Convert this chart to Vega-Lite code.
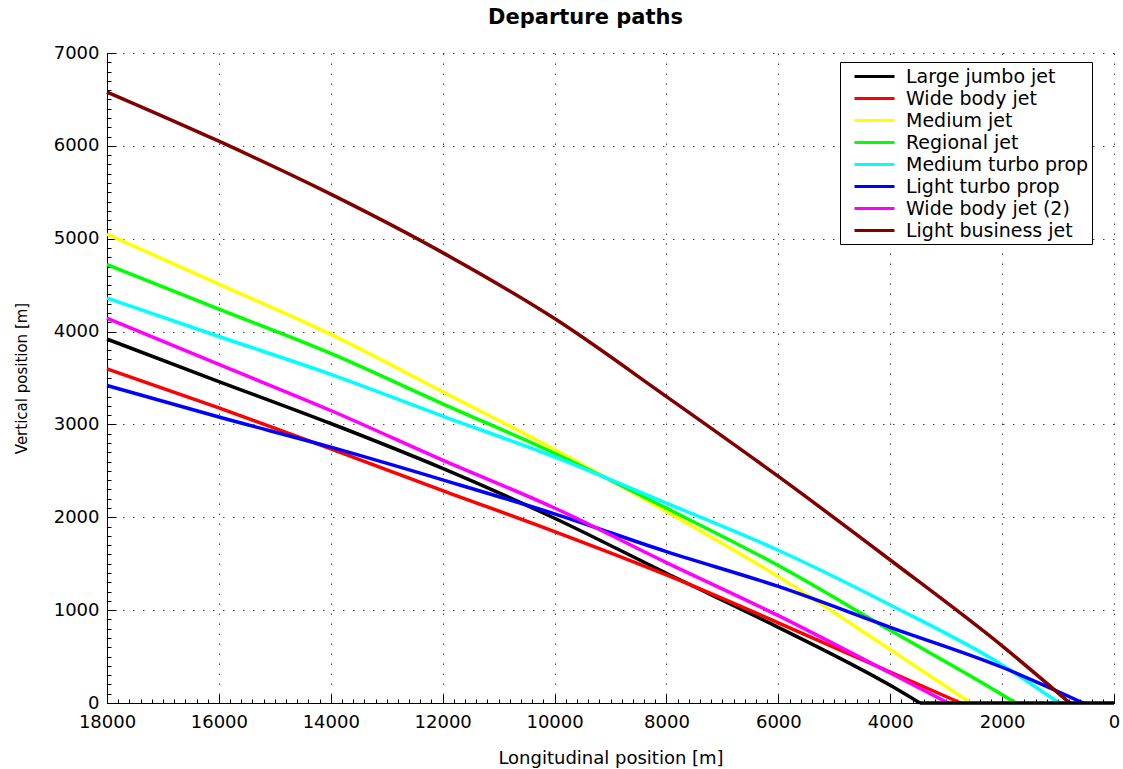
{
  "$schema": "https://vega.github.io/schema/vega-lite/v6.json",
  "width": 1007,
  "height": 650,
  "autosize": {"type": "none"},
  "padding": {"left": 107, "top": 53, "right": 9, "bottom": 66},
  "background": "white",
  "config": {"view": {"stroke": null}, "font": "DejaVu Sans"},
  "title": {"text": "Departure paths", "fontSize": 21, "fontWeight": "bold", "font": "DejaVu Sans", "color": "black", "offset": 16, "frame": "group", "dx": -25},
  "data": {"values": [
    {"series": "Large jumbo jet", "x": 18000, "y": 3919},
    {"series": "Large jumbo jet", "x": 16000, "y": 3462},
    {"series": "Large jumbo jet", "x": 14000, "y": 3010},
    {"series": "Large jumbo jet", "x": 12000, "y": 2526},
    {"series": "Large jumbo jet", "x": 10000, "y": 1990},
    {"series": "Large jumbo jet", "x": 8000, "y": 1397},
    {"series": "Large jumbo jet", "x": 6000, "y": 815},
    {"series": "Large jumbo jet", "x": 4000, "y": 190},
    {"series": "Large jumbo jet", "x": 3470, "y": 0},
    {"series": "Large jumbo jet", "x": 0, "y": 0},
    {"series": "Wide body jet", "x": 18000, "y": 3599},
    {"series": "Wide body jet", "x": 16000, "y": 3179},
    {"series": "Wide body jet", "x": 14000, "y": 2737},
    {"series": "Wide body jet", "x": 12000, "y": 2288},
    {"series": "Wide body jet", "x": 10000, "y": 1846},
    {"series": "Wide body jet", "x": 8000, "y": 1379},
    {"series": "Wide body jet", "x": 6000, "y": 864},
    {"series": "Wide body jet", "x": 4000, "y": 334},
    {"series": "Wide body jet", "x": 2741, "y": 0},
    {"series": "Wide body jet", "x": 0, "y": 0},
    {"series": "Medium jet", "x": 18000, "y": 5050},
    {"series": "Medium jet", "x": 16000, "y": 4511},
    {"series": "Medium jet", "x": 14000, "y": 3969},
    {"series": "Medium jet", "x": 12000, "y": 3352},
    {"series": "Medium jet", "x": 10000, "y": 2730},
    {"series": "Medium jet", "x": 8000, "y": 2062},
    {"series": "Medium jet", "x": 6000, "y": 1361},
    {"series": "Medium jet", "x": 4000, "y": 575},
    {"series": "Medium jet", "x": 2555, "y": 0},
    {"series": "Medium jet", "x": 0, "y": 0},
    {"series": "Regional jet", "x": 18000, "y": 4720},
    {"series": "Regional jet", "x": 16000, "y": 4242},
    {"series": "Regional jet", "x": 14000, "y": 3765},
    {"series": "Regional jet", "x": 12000, "y": 3222},
    {"series": "Regional jet", "x": 10000, "y": 2690},
    {"series": "Regional jet", "x": 8000, "y": 2098},
    {"series": "Regional jet", "x": 6000, "y": 1480},
    {"series": "Regional jet", "x": 4000, "y": 783},
    {"series": "Regional jet", "x": 2000, "y": 90},
    {"series": "Regional jet", "x": 1757, "y": 0},
    {"series": "Regional jet", "x": 0, "y": 0},
    {"series": "Medium turbo prop", "x": 18000, "y": 4361},
    {"series": "Medium turbo prop", "x": 16000, "y": 3947},
    {"series": "Medium turbo prop", "x": 14000, "y": 3540},
    {"series": "Medium turbo prop", "x": 12000, "y": 3090},
    {"series": "Medium turbo prop", "x": 10000, "y": 2650},
    {"series": "Medium turbo prop", "x": 8000, "y": 2152},
    {"series": "Medium turbo prop", "x": 6000, "y": 1645},
    {"series": "Medium turbo prop", "x": 4000, "y": 1056},
    {"series": "Medium turbo prop", "x": 2000, "y": 410},
    {"series": "Medium turbo prop", "x": 983, "y": 0},
    {"series": "Medium turbo prop", "x": 0, "y": 0},
    {"series": "Light turbo prop", "x": 18000, "y": 3419},
    {"series": "Light turbo prop", "x": 16000, "y": 3080},
    {"series": "Light turbo prop", "x": 14000, "y": 2755},
    {"series": "Light turbo prop", "x": 12000, "y": 2403},
    {"series": "Light turbo prop", "x": 10000, "y": 2037},
    {"series": "Light turbo prop", "x": 8000, "y": 1630},
    {"series": "Light turbo prop", "x": 6000, "y": 1255},
    {"series": "Light turbo prop", "x": 4000, "y": 815},
    {"series": "Light turbo prop", "x": 2000, "y": 385},
    {"series": "Light turbo prop", "x": 549, "y": 0},
    {"series": "Light turbo prop", "x": 0, "y": 0},
    {"series": "Wide body jet (2)", "x": 18000, "y": 4145},
    {"series": "Wide body jet (2)", "x": 16000, "y": 3646},
    {"series": "Wide body jet (2)", "x": 14000, "y": 3150},
    {"series": "Wide body jet (2)", "x": 12000, "y": 2615},
    {"series": "Wide body jet (2)", "x": 10000, "y": 2100},
    {"series": "Wide body jet (2)", "x": 8000, "y": 1512},
    {"series": "Wide body jet (2)", "x": 6000, "y": 941},
    {"series": "Wide body jet (2)", "x": 4000, "y": 323},
    {"series": "Wide body jet (2)", "x": 2962, "y": 0},
    {"series": "Wide body jet (2)", "x": 0, "y": 0},
    {"series": "Light business jet", "x": 18000, "y": 6580},
    {"series": "Light business jet", "x": 16000, "y": 6050},
    {"series": "Light business jet", "x": 14000, "y": 5480},
    {"series": "Light business jet", "x": 12000, "y": 4850},
    {"series": "Light business jet", "x": 10000, "y": 4140},
    {"series": "Light business jet", "x": 8000, "y": 3300},
    {"series": "Light business jet", "x": 6000, "y": 2440},
    {"series": "Light business jet", "x": 4000, "y": 1540},
    {"series": "Light business jet", "x": 2000, "y": 615},
    {"series": "Light business jet", "x": 790, "y": 0},
    {"series": "Light business jet", "x": 0, "y": 0}
  ]},
  "layer": [
    {
      "transform": [{"filter": "datum.x > 0"}],
      "mark": {"type": "line", "strokeWidth": 3.5, "interpolate": "monotone"},
      "encoding": {
        "x": {"field": "x", "type": "quantitative",
          "scale": {"domain": [0, 18000], "reverse": true, "nice": false, "zero": false},
          "axis": {"orient": "bottom", "values": [0, 2000, 4000, 6000, 8000, 10000, 12000, 14000, 16000, 18000], "format": "d",
            "tickSize": -9, "tickColor": "black", "domainColor": "black", "labelFontSize": 18, "labelColor": "black", "labelPadding": 19,
            "labelFont": "DejaVu Sans", "grid": true, "gridDash": [1.5, 8.5], "gridColor": "#444", "labelFlush": false,
            "title": "Longitudinal position [m]", "titleFontSize": 18, "titleFontWeight": "normal", "titleColor": "black", "titleFont": "DejaVu Sans", "titlePadding": 18}},
        "y": {"field": "y", "type": "quantitative",
          "scale": {"domain": [0, 7000], "nice": false},
          "axis": {"orient": "left", "values": [0, 1000, 2000, 3000, 4000, 5000, 6000, 7000], "format": "d",
            "tickSize": -9, "tickColor": "black", "domainColor": "black", "labelFontSize": 18, "labelColor": "black", "labelPadding": 17,
            "labelFont": "DejaVu Sans", "grid": true, "gridDash": [1.5, 8.5], "gridColor": "#444", "labelFlush": false,
            "title": "Vertical position [m]", "titleFontSize": 15, "titleFontWeight": "normal", "titleColor": "black", "titleFont": "DejaVu Sans", "titlePadding": 24}},
        "color": {"field": "series", "type": "nominal",
          "scale": {"domain": ["Large jumbo jet", "Wide body jet", "Medium jet", "Regional jet", "Medium turbo prop", "Light turbo prop", "Wide body jet (2)", "Light business jet"],
                    "range": ["#000000", "#ff0000", "#ffff00", "#00ff00", "#00ffff", "#0000ff", "#ff00ff", "#800000"]},
          "legend": {"orient": "none", "legendX": 733, "legendY": 9, "title": null, "symbolType": "M0,0H4", "symbolSize": 400, "symbolStrokeWidth": 3,
            "labelFontSize": 19, "labelFont": "DejaVu Sans", "labelColor": "black", "labelOffset": 40, "padding": 3, "rowPadding": -0.7,
            "strokeColor": "black", "fillColor": "white", "labelLimit": 400}}
      }
    },
    {
      "transform": [{"filter": "datum.series === 'Large jumbo jet' && datum.y === 0"}],
      "mark": {"type": "line", "strokeWidth": 3.5, "color": "black", "interpolate": "linear"},
      "encoding": {
        "x": {"field": "x", "type": "quantitative",
          "axis": {"orient": "bottom", "values": [0,200,400,600,800,1000,1200,1400,1600,1800,2000,2200,2400,2600,2800,3000,3200,3400,3600,3800,4000,4200,4400,4600,4800,5000,5200,5400,5600,5800,6000,6200,6400,6600,6800,7000,7200,7400,7600,7800,8000,8200,8400,8600,8800,9000,9200,9400,9600,9800,10000,10200,10400,10600,10800,11000,11200,11400,11600,11800,12000,12200,12400,12600,12800,13000,13200,13400,13600,13800,14000,14200,14400,14600,14800,15000,15200,15400,15600,15800,16000,16200,16400,16600,16800,17000,17200,17400,17600,17800,18000],
            "labels": false, "domain": false, "grid": false, "tickSize": -4, "tickColor": "black", "title": null}},
        "y": {"field": "y", "type": "quantitative",
          "axis": {"orient": "left", "values": [0,100,200,300,400,500,600,700,800,900,1000,1100,1200,1300,1400,1500,1600,1700,1800,1900,2000,2100,2200,2300,2400,2500,2600,2700,2800,2900,3000,3100,3200,3300,3400,3500,3600,3700,3800,3900,4000,4100,4200,4300,4400,4500,4600,4700,4800,4900,5000,5100,5200,5300,5400,5500,5600,5700,5800,5900,6000,6100,6200,6300,6400,6500,6600,6700,6800,6900,7000],
            "labels": false, "domain": false, "grid": false, "tickSize": -4, "tickColor": "black", "title": null}}
      }
    }
  ],
  "resolve": {"axis": {"x": "independent", "y": "independent"}}
}
